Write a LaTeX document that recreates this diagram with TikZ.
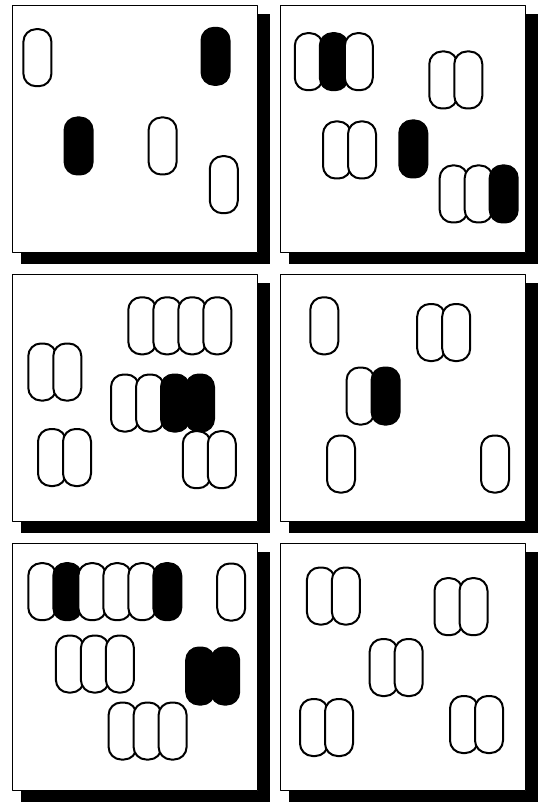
\documentclass[tikz,border=0pt]{standalone}
\usepackage{tikz}
\usetikzlibrary{arrows.meta}
\tikzset{
  every picture/.style={
    line join=round,
    line cap=round,
  },
  panelbox/.style={draw, fill=white, line width=1.4pt, inner sep=0pt,
    minimum width=245pt, minimum height=247pt, anchor=north west},
  shade/.style={fill=black},
  cell/.style={draw, line width=2pt, rounded corners=12.5pt, inner sep=0pt,
    minimum width=28pt, minimum height=57pt},
  live/.style={fill=white},
  dead/.style={fill=black},
}
% one panel: shadow first, then the white box
\newcommand{\panel}[3]{%
  \fill[shade] (#2+9,#3+9) rectangle (#2+258,#3+259);
  \node[panelbox] (#1) at (#2,#3) {};
}
% a chain of cells side by side: name, left x, middle y, kinds
\newcommand{\chain}[4]{%
  \foreach \kind [count=\i] in {#4}
    \node[cell, \kind] (#1-\i) at ({#2+14+25*(\i-1)}, #3) {};
}

\begin{document}
\begin{tikzpicture}[x=1pt, y=-1pt]
\useasboundingbox (0,0) rectangle (541,802);

\panel{pa}{12}{5}
\panel{pb}{280}{5}
\panel{pc}{12}{274}
\panel{pd}{280}{274}
\panel{pe}{12}{543}
\panel{pf}{280}{543}

% panel a
\chain{a1}{23.4}{57.7}{live}
\chain{a2}{201.5}{56.3}{dead}
\chain{a3}{64.6}{146}{dead}
\chain{a4}{148.6}{146}{live}
\chain{a5}{209.8}{184.7}{live}

% panel b
\chain{b1}{294.8}{61.7}{live,dead,live}
\chain{b2}{429.3}{80}{live,live}
\chain{b3}{323}{150}{live,live}
\chain{b4}{399.3}{149}{dead}
\chain{b5}{439.7}{194}{live,live,dead}

% panel c
\chain{c1}{128.3}{325.8}{live,live,live,live}
\chain{c2}{28.3}{372}{live,live}
\chain{c3}{111}{403}{live,live,dead,dead}
\chain{c4}{38}{457.5}{live,live}
\chain{c5}{182.8}{459.7}{live,live}

% panel d
\chain{d1}{310.3}{325.8}{live}
\chain{d2}{417.2}{332.5}{live,live}
\chain{d3}{346.6}{396}{live,dead}
\chain{d4}{327}{464}{live}
\chain{d5}{481}{464}{live}

% panel e
\chain{e1}{28.3}{591.7}{live,dead,live,live,live,dead}
\chain{e2}{217.2}{592}{live}
\chain{e3}{55.9}{664}{live,live,live}
\chain{e4}{186.2}{676}{dead,dead}
\chain{e5}{108.6}{731}{live,live,live}

% panel f
\chain{f1}{306.9}{596}{live,live}
\chain{f2}{434.5}{606.7}{live,live}
\chain{f3}{369.7}{667.5}{live,live}
\chain{f4}{300}{727.5}{live,live}
\chain{f5}{450}{724.5}{live,live}
\end{tikzpicture}
\end{document}
